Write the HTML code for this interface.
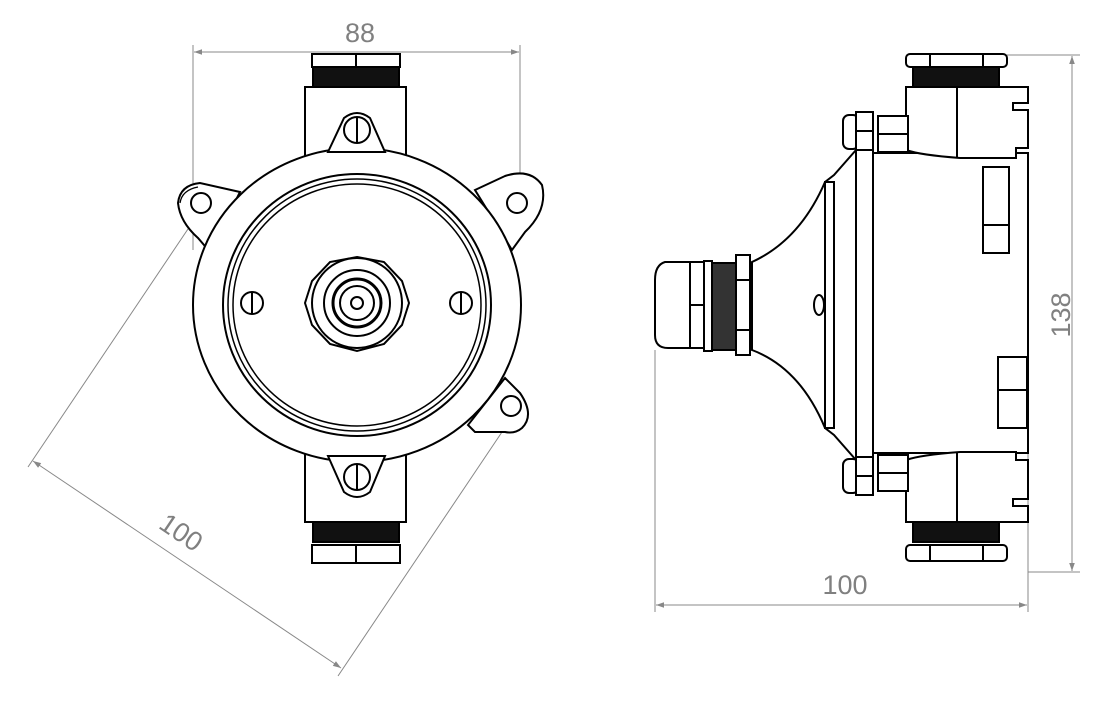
<!DOCTYPE html>
<html><head><style>
html,body{margin:0;padding:0;background:#fff;}
svg{display:block;}
text{font-family:"Liberation Sans",sans-serif;fill:#808080;font-size:27px;}
</style></head><body>
<svg width="1118" height="701" viewBox="0 0 1118 701" xmlns="http://www.w3.org/2000/svg">
<defs>
<marker id="ar" viewBox="0 0 10 10" refX="10" refY="5" markerWidth="20" markerHeight="8" markerUnits="userSpaceOnUse" orient="auto-start-reverse"><path d="M0,1.5 L10,5 L0,8.5z" fill="#888"/></marker>
</defs>
<g stroke="#888" stroke-width="1" fill="none">
<line x1="193" y1="45" x2="193" y2="250"/>
<line x1="520" y1="45" x2="520" y2="200"/>
<line x1="194" y1="52" x2="519" y2="52" marker-start="url(#ar)" marker-end="url(#ar)"/>
<line x1="28" y1="467" x2="190" y2="226"/>
<line x1="338" y1="676" x2="502" y2="432"/>
<line x1="33" y1="461" x2="341" y2="668" marker-start="url(#ar)" marker-end="url(#ar)"/>
<line x1="1007" y1="55" x2="1080" y2="55"/>
<line x1="1028" y1="572" x2="1080" y2="572"/>
<line x1="1072" y1="56" x2="1072" y2="571" marker-start="url(#ar)" marker-end="url(#ar)"/>
<line x1="655" y1="350" x2="655" y2="612"/>
<line x1="1028" y1="440" x2="1028" y2="612"/>
<line x1="656" y1="605" x2="1027" y2="605" marker-start="url(#ar)" marker-end="url(#ar)"/>
</g>
<text x="360" y="42" text-anchor="middle">88</text>
<text x="845" y="594" text-anchor="middle">100</text>
<text transform="translate(1070,315) rotate(-90)" text-anchor="middle">138</text>
<text transform="translate(176,540) rotate(34)" text-anchor="middle">100</text>

<!-- LEFT VIEW -->
<g stroke="#000" stroke-width="2" fill="#fff">
<path d="M240,192 L200,183 Q180,185 178,203 Q180,222 198,238 L210,252 Z"/>
<path d="M180,203 Q182,190 198,187" fill="none" stroke-width="1.3"/>
<path d="M475,190 L505,176 Q530,168 542,185 Q548,210 525,232 L512,250 Z"/>
<path d="M505,378 L520,393 Q535,415 522,428 Q515,434 505,432 L475,432 L468,425 Z"/>
<circle cx="201" cy="203" r="10"/>
<circle cx="517" cy="203" r="10"/>
<circle cx="511" cy="406" r="10"/>
<rect x="312" y="54" width="88" height="13"/>
<line x1="356" y1="54" x2="356" y2="67"/>
<rect x="313" y="67" width="86" height="20" fill="#111"/>
<rect x="305" y="87" width="101" height="70"/>
<rect x="305" y="450" width="101" height="72"/>
<rect x="313" y="522" width="86" height="20" fill="#111"/>
<rect x="312" y="545" width="88" height="18"/>
<line x1="356" y1="545" x2="356" y2="563"/>
<ellipse cx="357" cy="305" rx="164" ry="157"/>
<path d="M328,152 L344,118 Q357,108 370,118 L385,152 Z"/>
<circle cx="357" cy="130" r="13"/>
<line x1="357" y1="117" x2="357" y2="143"/>
<path d="M328,456 L344,492 Q357,502 370,492 L385,456 Z"/>
<circle cx="357" cy="477" r="13"/>
<line x1="357" y1="464" x2="357" y2="490"/>
<ellipse cx="357" cy="305" rx="134" ry="131"/>
<ellipse cx="357" cy="305" rx="129" ry="126" stroke-width="1.5"/>
<ellipse cx="357" cy="305" rx="124" ry="121" stroke-width="1.5"/>
<circle cx="252" cy="303" r="11"/><line x1="252" y1="292" x2="252" y2="314"/>
<circle cx="461" cy="303" r="11"/><line x1="461" y1="292" x2="461" y2="314"/>
<polygon points="357,257 384,262 402,281 409,303 402,325 384,344 357,351 330,344 312,325 305,303 312,281 330,262"/>
<circle cx="357" cy="303" r="45"/>
<circle cx="357" cy="303" r="33"/>
<circle cx="357" cy="303" r="24" stroke-width="3"/>
<circle cx="357" cy="303" r="17"/>
<circle cx="357" cy="303" r="6"/>
</g>

<!-- RIGHT VIEW -->
<g stroke="#000" stroke-width="2" fill="#fff">
<path d="M856,150 L834,175 L825,182 Q800,240 752,262 L752,350 Q800,368 825,428 L834,435 L856,460 Z"/>
<rect x="825" y="182" width="9" height="246"/>
<ellipse cx="819" cy="305" rx="5" ry="10"/>
<rect x="736" y="255" width="14" height="100"/>
<line x1="736" y1="280" x2="750" y2="280"/><line x1="736" y1="330" x2="750" y2="330"/>
<rect x="712" y="263" width="24" height="87" fill="#333"/>
<rect x="704" y="261" width="8" height="90"/>
<path d="M690,262 L665,262 Q655,265 655,280 L655,335 Q655,348 668,348 L690,348 Z"/>
<rect x="690" y="262" width="14" height="86"/>
<line x1="690" y1="305" x2="704" y2="305"/>
<rect x="873" y="153" width="155" height="300"/>
<rect x="983" y="167" width="26" height="86"/><line x1="983" y1="225" x2="1009" y2="225"/>
<rect x="998" y="357" width="29" height="71"/><line x1="998" y1="390" x2="1027" y2="390"/>
<rect x="856" y="148" width="17" height="310"/>
<path d="M906,87 L1028,87 L1028,103 L1013,103 L1013,110 L1028,110 L1028,148 L1016,148 L1016,158 L960,158 Q920,155 906,150 Z"/>
<line x1="957" y1="87" x2="957" y2="158"/>
<rect x="913" y="67" width="86" height="20" fill="#111"/>
<rect x="906" y="54" width="101" height="13" rx="4"/>
<line x1="930" y1="54" x2="930" y2="67"/><line x1="983" y1="54" x2="983" y2="67"/>
<path d="M906,522 L1028,522 L1028,506 L1013,506 L1013,499 L1028,499 L1028,460 L1016,460 L1016,452 L960,452 Q920,455 906,460 Z"/>
<line x1="957" y1="452" x2="957" y2="522"/>
<rect x="913" y="522" width="86" height="20" fill="#111"/>
<rect x="906" y="545" width="101" height="16" rx="4"/>
<line x1="930" y1="545" x2="930" y2="561"/><line x1="983" y1="545" x2="983" y2="561"/>
<rect x="843" y="115" width="16" height="34" rx="6"/>
<rect x="856" y="112" width="17" height="38"/><line x1="856" y1="131" x2="873" y2="131"/>
<rect x="878" y="116" width="30" height="36"/><line x1="878" y1="134" x2="908" y2="134"/>
<rect x="843" y="459" width="16" height="34" rx="6"/>
<rect x="856" y="457" width="17" height="38"/><line x1="856" y1="476" x2="873" y2="476"/>
<rect x="878" y="455" width="30" height="36"/><line x1="878" y1="473" x2="908" y2="473"/>
</g>
</svg>
</body></html>
